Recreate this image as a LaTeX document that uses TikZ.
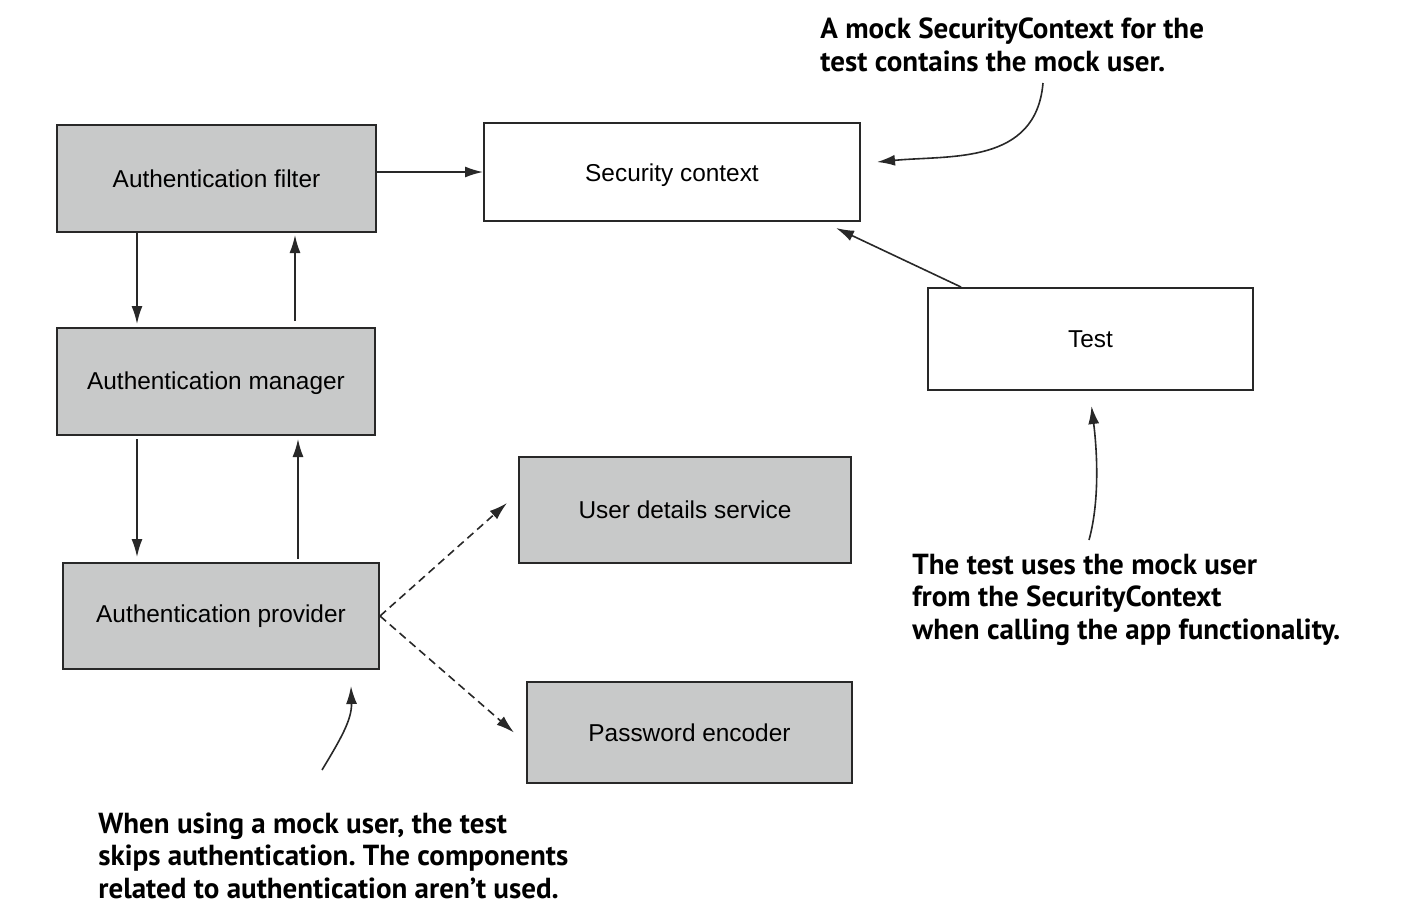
\documentclass[tikz,border=0pt]{standalone}
\usepackage{fontspec}
\setmainfont{Liberation Sans}
\newfontfamily\annotfont{PT Sans Bold}
\usetikzlibrary{arrows.meta,calc}
\definecolor{boxgray}{RGB}{200,201,201}
\definecolor{edge}{RGB}{40,40,40}
\frenchspacing
\begin{document}
\begin{tikzpicture}[x=0.5pt,y=-0.5pt,
  box/.style={draw=edge,line width=1pt,fill=boxgray,inner sep=0pt,font=\fontsize{12.2}{14}\selectfont},
  wbox/.style={box,fill=white},
  arr/.style={draw=edge,line width=0.8pt,-{Latex[length=9pt,width=5.5pt]}},
  darr/.style={arr,dash pattern=on 4pt off 2.5pt},
  note/.style={font=\annotfont\frenchspacing\fontsize{14.5}{16.25}\selectfont,align=left,anchor=base west,inner sep=0pt}
]
\useasboundingbox (0,0) rectangle (1408,918);
\node[box,minimum width=159.5pt,minimum height=53.5pt] (filter) at (216.5,178.5) {Authentication filter};
\node[wbox,minimum width=188pt,minimum height=49pt,text height=11.8pt,text depth=2.6pt] (security) at (672,172) {Security context};
\node[box,minimum width=159pt,minimum height=53.5pt,text height=11pt,text depth=2.6pt] (manager) at (216,381.5) {Authentication manager};
\node[wbox,minimum width=162.5pt,minimum height=51pt] (test) at (1090.5,339) {Test};
\node[box,minimum width=166pt,minimum height=53pt] (uds) at (685,510) {User details service};
\node[box,minimum width=158pt,minimum height=53pt] (provider) at (221,616) {Authentication provider};
\node[box,minimum width=162.5pt,minimum height=50.5pt] (encoder) at (689.5,732.5) {Password encoder};

\draw[arr] (filter.east |- security.west) -- (security.west);
\draw[arr,shorten >=1.5pt] (137,0 |- filter.south) -- (137,0 |- manager.north);
\draw[arr,shorten <=3pt,shorten >=1pt] (295,0 |- manager.north) -- (295,0 |- filter.south);
\draw[arr,shorten <=1.5pt,shorten >=2.5pt] (137,0 |- manager.south) -- (137,0 |- provider.north);
\draw[arr,shorten <=1.5pt,shorten >=1.5pt] (298,0 |- provider.north) -- (298,0 |- manager.south);
\draw[darr] (provider.east) -- ($(uds.west)+(-11,-7)$);
\draw[darr] (provider.east) -- ($(encoder.west)+(-12,0)$);
\draw[arr] ($(test.north west)+(34,0)$) -- ($(security.south east)+(-25,6)$);

\node[note] (n1) at (820,71) {A mock SecurityContext for the\\test contains the mock user.};
\node[note] (n2) at (912,639) {The test uses the mock user\\from the SecurityContext\\when calling the app functionality.};
\node[note] (n3) at (98,898) {When using a mock user, the test\\skips authentication. The components\\related to authentication aren’t used.};

\coordinate (c1) at (1043,83);
\coordinate (c2) at (1089,540);
\coordinate (c3) at (322,770);
\draw[arr] (c1) .. controls (1036,165) and (950,155) .. ($(security.east)+(16,-10)$);
\draw[arr] (c2) .. controls (1100,500) and (1097,450) .. ($(test.south)+(1,15)$);
\draw[arr] (c3) .. controls (340,740) and (352,720) .. ($(provider.south)+(130,16)$);
\end{tikzpicture}
\end{document}
